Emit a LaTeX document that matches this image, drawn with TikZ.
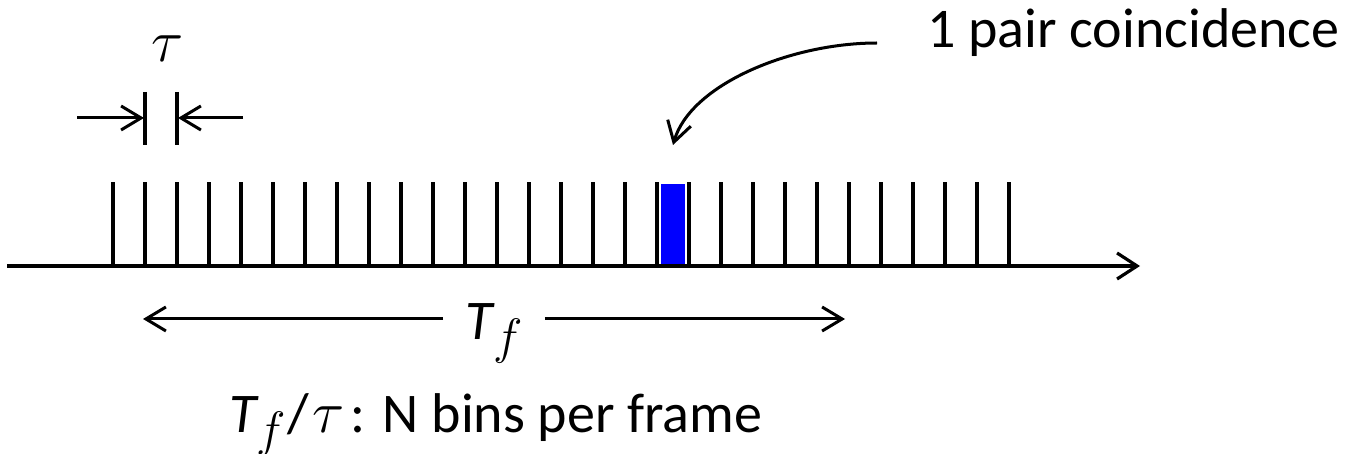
\documentclass[tikz,border=0pt]{standalone}
\usepackage{fontspec}
\setmainfont{Carlito}
\usepackage{tikz}
\usetikzlibrary{arrows.meta, positioning, calc}
\definecolor{binblue}{RGB}{0,0,255}
\newcommand{\Tframe}{\textit{T}\kern-1pt\raisebox{-7pt}{\fontsize{24}{24}\selectfont$f$}}
\newcommand{\taubin}{\scalebox{1.2}{$\tau$}}

\begin{document}
\begin{tikzpicture}[
  x=0.5pt, y=-0.5pt,
  txt/.style={inner sep=0pt, font=\fontsize{28}{34}\selectfont},
  tickline/.style={line width=1.6pt, black},
  axisline/.style={line width=2pt, -{Straight Barb[length=10pt, width=13pt, line width=1.6pt]}},
  arrow/.style={line width=1.5pt, -{Straight Barb[length=10pt, width=12pt, line width=1.5pt]}}
]
\useasboundingbox (0,0) rectangle (1361,454);

% time axis and bins
\coordinate (origin) at (7,266);
\coordinate (axisend) at (1140,266);
\foreach \k in {0,...,28}
  \draw[tickline] (113+32*\k,266) -- (113+32*\k,182);
\fill[binblue] (661,184) rectangle (685,265);
\draw[axisline] (origin) -- (axisend);

% bin width
\node[txt, anchor=base] (tau) at (168,62) {\taubin};
\coordinate (barL) at (145,92);
\coordinate (barR) at (177,92);
\coordinate (inL) at (77,118);
\coordinate (inR) at (243,118);
\draw[tickline] (barL) -- ++(0,53);
\draw[tickline] (barR) -- ++(0,53);
\draw[arrow] (inL) -- ([xshift=-0.5pt]inL -| barL);
\draw[arrow] (inR) -- ([xshift=0.5pt]inR -| barR);

% coincidence
\node[txt, anchor=base west] (pair) at (927,48) {1 pair coincidence};
\coordinate (pairstart) at (877,43);
\coordinate (cointip) at (673,145);
\draw[arrow] (pairstart) .. controls (790,43) and (690,85) .. (cointip);

% frame length
\coordinate (tfL) at (143,319);
\coordinate (tfR) at (845,319);
\node[txt, anchor=base, inner xsep=11pt] (tf) at (494,340) {\Tframe};
\draw[arrow] (tf.west |- tfL) -- (tfL);
\draw[arrow] (tf.east |- tfR) -- (tfR);
\node[txt, anchor=base west] (bins) at (229,432) {\Tframe\kern0.5pt/\kern2pt\taubin\kern3pt: N bins per frame};
\end{tikzpicture}
\end{document}
